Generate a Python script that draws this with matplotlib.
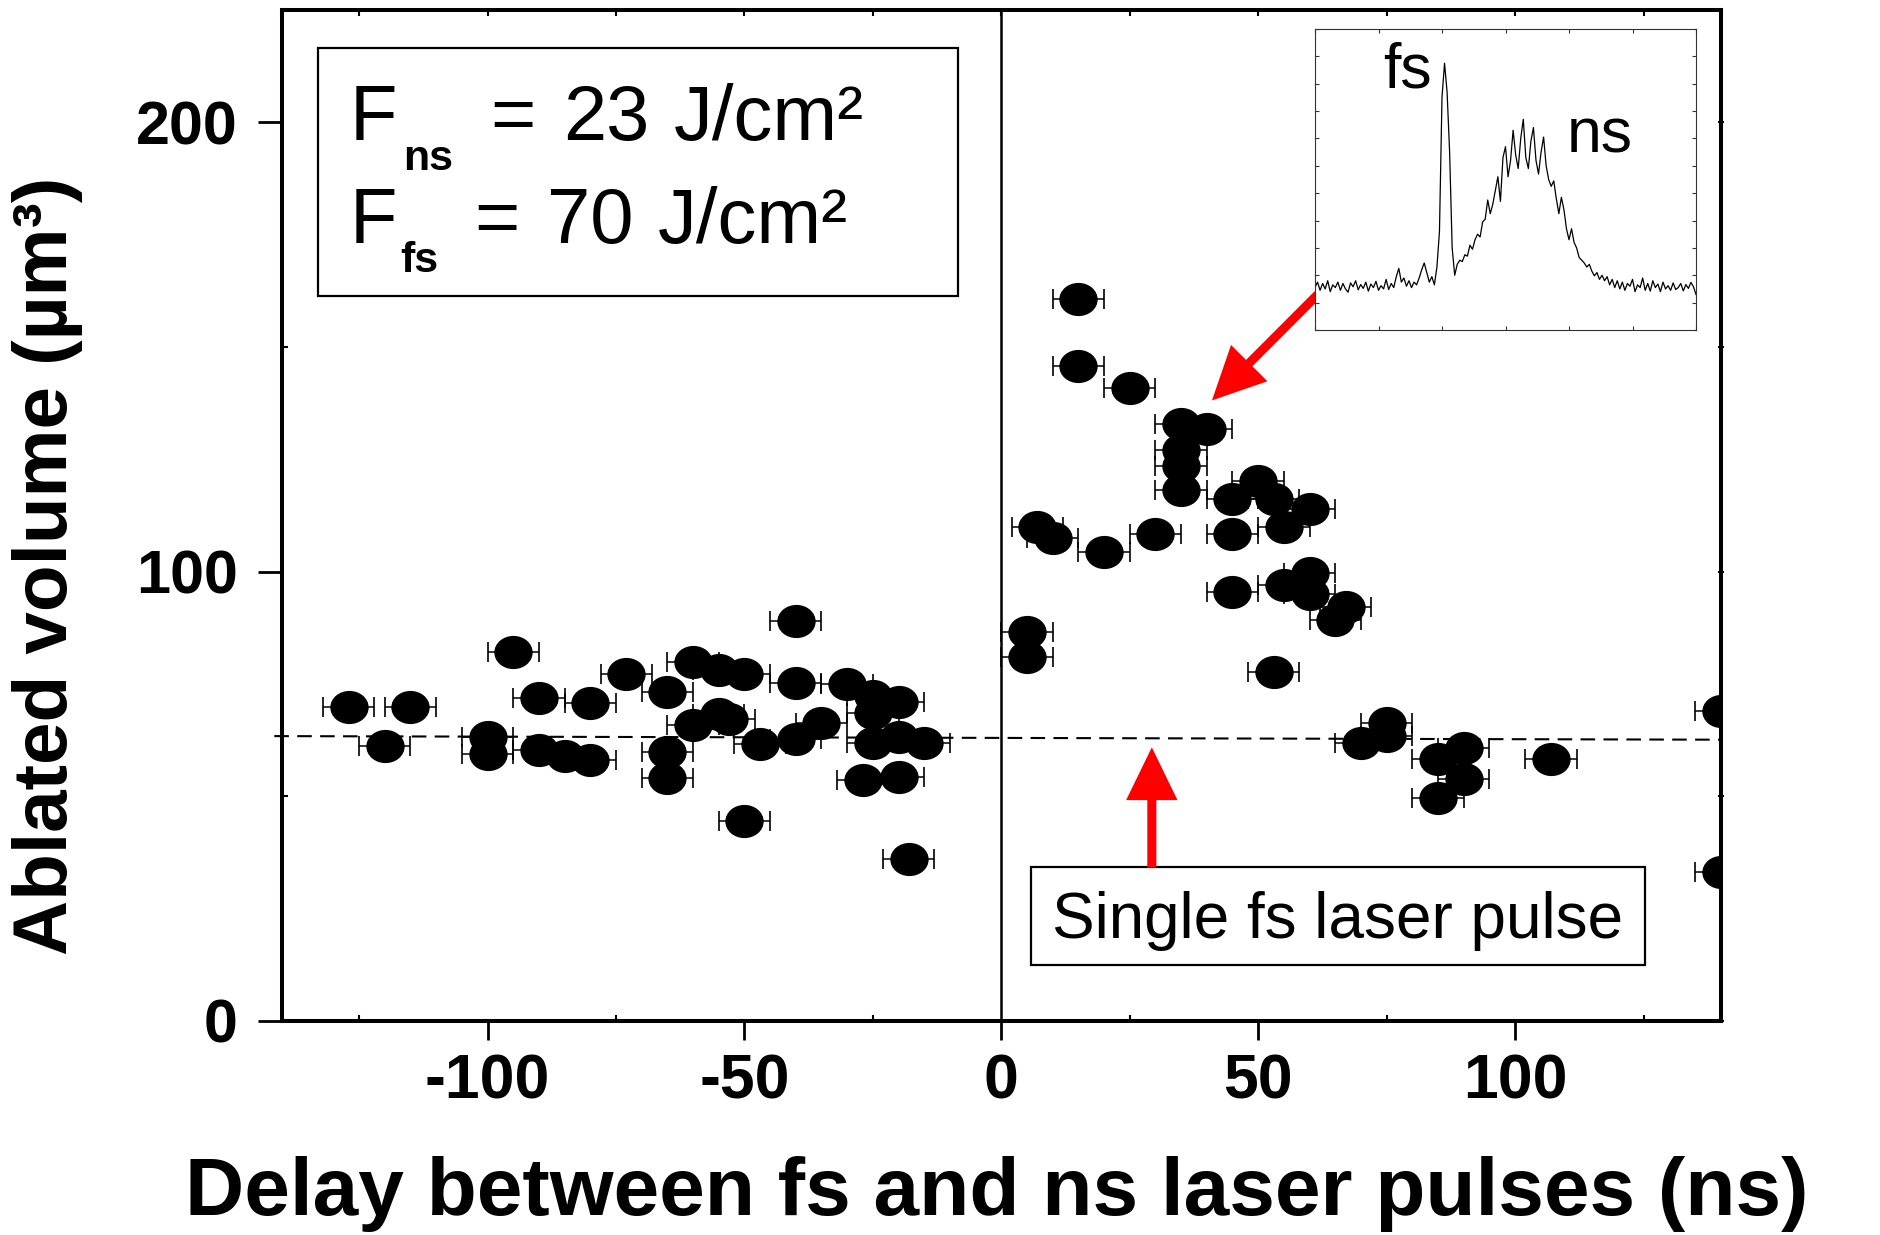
import numpy as np
import matplotlib
matplotlib.use("Agg")
import matplotlib.pyplot as plt
from matplotlib.path import Path
from matplotlib.patches import Rectangle
from matplotlib.transforms import Affine2D
from matplotlib.ticker import MultipleLocator

plt.rcParams['font.family'] = ['Liberation Sans', 'DejaVu Sans']
plt.rcParams['axes.unicode_minus'] = False

# Ablated volume vs delay between fs and ns pulses
delay_ns = [-127, -115, -120, -100, -100, -95, -90, -90, -85, -80, -80, -73,
            -65, -65, -65, -60, -60, -55, -55, -53, -50, -50, -47, -40, -40,
            -40, -35, -30, -25, -25, -20, -25, -20, -15, -27, -20, -18,
            15, 15, 25, 35, 40, 35, 35, 35, 50, 45, 53, 60, 55, 45, 7, 10,
            20, 30, 45, 55, 60, 60, 67, 65, 5, 5, 53, 75, 75, 70, 90, 85,
            90, 85, 107, 140, 140]
volume_um3 = [69.8, 69.8, 61.2, 63.1, 59.5, 82.1, 71.8, 60.3, 59.0, 58.1, 70.7, 77.2,
              73.2, 59.9, 54.0, 79.8, 65.9, 78.1, 68.3, 67.2, 77.3, 44.4, 61.6, 89.0, 75.3,
              62.7, 66.4, 75.0, 72.4, 68.5, 71.0, 61.8, 63.2, 61.8, 53.6, 54.4, 36.1,
              160.6, 145.7, 140.8, 132.9, 131.7, 127.0, 123.5, 118.1, 120.2, 116.1, 116.1,
              113.9, 109.9, 108.4, 109.9, 107.4, 104.3, 108.3, 95.5, 97.0, 99.6, 95.0,
              92.2, 89.2, 86.6, 81.0, 77.7, 66.4, 63.5, 61.8, 60.7, 58.4, 53.8, 49.6,
              58.3, 69.0, 33.1]
delay_err = 5

# single fs pulse level (dashed)
single_fs_x = [-141.5, 140]
single_fs_y = [63.4, 62.6]

# inset: oscilloscope trace of the two pulses (arb. units)
trace = [1.55, 1.75, 1.45, 1.70, 1.50, 1.80, 1.40, 1.65, 1.55, 1.75,
         1.45, 1.70, 1.50, 1.38, 1.72, 1.58, 1.80, 1.47, 1.66, 1.52,
         1.75, 1.42, 1.68, 1.55, 1.78, 1.45, 1.62, 1.50, 1.85, 1.48,
         1.70, 1.55, 1.95, 2.25, 1.75, 1.90, 1.60, 1.80, 1.55, 1.75,
         1.65, 1.90, 2.20, 2.45, 2.10, 1.75, 1.95, 1.65, 2.30, 3.60,
         8.50, 9.75, 8.70, 6.50, 3.00, 2.00, 2.40, 2.55, 2.50, 2.75,
         2.70, 3.10, 2.95, 3.30, 3.50, 3.40, 3.95, 4.05, 4.75, 4.25,
         4.60, 5.10, 5.60, 4.70, 6.30, 6.70, 5.60, 6.20, 7.30, 6.40,
         5.90, 7.00, 7.70, 6.30, 5.90, 6.90, 7.40, 6.20, 5.70, 6.50,
         7.05, 6.00, 5.50, 5.25, 5.45, 4.80, 4.25, 4.85, 4.40, 3.70,
         3.30, 3.70, 3.20, 3.00, 2.65, 2.55, 2.45, 2.30, 2.40, 2.15,
         1.98, 2.10, 1.85, 2.00, 1.80, 1.95, 1.65, 1.85, 1.55, 1.80,
         1.50, 1.75, 1.45, 1.70, 1.60, 1.85, 1.40, 1.65, 1.55, 1.90,
         1.45, 1.70, 1.42, 1.80, 1.55, 1.68, 1.40, 1.75, 1.50, 1.62,
         1.45, 1.72, 1.48, 1.55, 1.70, 1.43, 1.66, 1.52, 1.74, 1.58, 1.30]
trace_t = np.arange(len(trace)) * 4


def fig_xy(xp, yp):
    # pixel position (from top-left) -> figure fraction
    return xp / 1880, 1 - yp / 1235


fig = plt.figure(figsize=(18.8, 12.35), dpi=100)
ax = fig.add_axes([0.15, 0.1733, 0.7652, 0.8186])

# slightly flattened ellipse marker
ellipse = Affine2D().scale(1, 0.86).transform_path(Path.unit_circle())

ax.errorbar(delay_ns, volume_um3, xerr=delay_err, fmt='none', ecolor='k',
            elinewidth=1.1, capsize=7.2, capthick=1.2, zorder=2)
ax.plot(delay_ns, volume_um3, linestyle='none', marker=ellipse, ms=26.6,
        mfc='k', mec='k', zorder=3)

ax.plot(single_fs_x, single_fs_y, color='k', lw=1.5, dashes=(7, 4),
        clip_on=False, zorder=1)
ax.axvline(0, color='k', lw=1.8, zorder=1)

ax.set_xlim(-140, 140)
ax.set_ylim(0, 225)
ax.xaxis.set_major_locator(MultipleLocator(50))
ax.xaxis.set_minor_locator(MultipleLocator(25))
ax.yaxis.set_major_locator(MultipleLocator(100))
ax.yaxis.set_minor_locator(MultipleLocator(50))
for s in ax.spines.values():
    s.set_linewidth(2.9)
ax.tick_params(axis='x', which='major', direction='out', length=14, width=2,
               labelsize=45, pad=9)
ax.tick_params(axis='y', which='major', direction='out', length=17, width=2,
               labelsize=44, pad=15)
ax.tick_params(which='minor', direction='in', length=4, width=1.5)
for lab in ax.get_xticklabels() + ax.get_yticklabels():
    lab.set_fontweight('bold')

top = ax.secondary_xaxis('top')
top.xaxis.set_major_locator(MultipleLocator(25))
top.tick_params(direction='in', length=4, width=1.5, labeltop=False)
right = ax.secondary_yaxis('right')
right.yaxis.set_major_locator(MultipleLocator(50))
right.tick_params(direction='inout', length=5, width=1.5, labelright=False)

ax.set_xlabel('Delay between fs and ns laser pulses (ns)', fontsize=59,
              fontweight='bold', va='baseline')
ax.xaxis.set_label_coords(0.497, -0.192)
ax.set_ylabel('Ablated volume (µm³)', fontsize=55, fontweight='bold')
ax.yaxis.set_label_coords(-0.138, 0.45)

# fluence box
ax.add_patch(Rectangle(fig_xy(318, 295.7), 640 / 1880, 247.7 / 1235,
                       transform=fig.transFigure, fill=False, lw=1.6,
                       ec='k', clip_on=False))
big = dict(fontsize=56, va='baseline')
sub = dict(fontsize=31, fontweight='bold', va='baseline')
fig.text(*fig_xy(350, 140), 'F', **big)
fig.text(*fig_xy(403, 170), 'ns', **sub)
fig.text(*fig_xy(490, 140), '=', **big)
fig.text(*fig_xy(563, 140), '23', **big)
fig.text(*fig_xy(674, 140), 'J/cm²', **big)
fig.text(*fig_xy(350, 243), 'F', **big)
fig.text(*fig_xy(400, 272), 'fs', **sub)
fig.text(*fig_xy(474, 243), '=', **big)
fig.text(*fig_xy(547, 243), '70', **big)
fig.text(*fig_xy(658, 243), 'J/cm²', **big)

# single pulse label
ax.add_patch(Rectangle(fig_xy(1031, 965), 614 / 1880, 98 / 1235,
                       transform=fig.transFigure, fill=False, lw=1.6,
                       ec='k', clip_on=False))
fig.text(*fig_xy(1338, 938), 'Single fs laser pulse', fontsize=46,
         ha='center', va='baseline')

arrow_style = 'simple,head_length=3.8,head_width=3.7,tail_width=0.65'
ax.annotate('', xy=(29.3, 60.9), xytext=(29.3, 34.1),
            arrowprops=dict(arrowstyle=arrow_style, mutation_scale=10,
                            fc='red', ec='none', shrinkA=0, shrinkB=0))
ax.annotate('', xy=(41.0, 138.1), xytext=(61.6, 161.7),
            arrowprops=dict(arrowstyle=arrow_style, mutation_scale=10,
                            fc='red', ec='none', shrinkA=0, shrinkB=0))

# inset with pulse shape
ins = fig.add_axes([1315 / 1880, 1 - 330 / 1235, 381 / 1880, 301 / 1235])
ins.plot(trace_t, trace, color='k', lw=0.9)
ins.set_xlim(0, 600)
ins.set_ylim(0, 11)
ins.set_xticks(np.arange(0, 601, 100))
ins.set_yticks(np.arange(0, 12, 1))
ins.tick_params(direction='in', length=3, width=0.8, top=True, right=True,
                labelbottom=False, labelleft=False, color='#333333')
for s in ins.spines.values():
    s.set_linewidth(0.8)
    s.set_color('#333333')
ins.text(107, 8.88, 'fs', fontsize=45, va='baseline')
ins.text(396, 6.5, 'ns', fontsize=45, va='baseline')

fig.savefig('out.png', dpi=100)
